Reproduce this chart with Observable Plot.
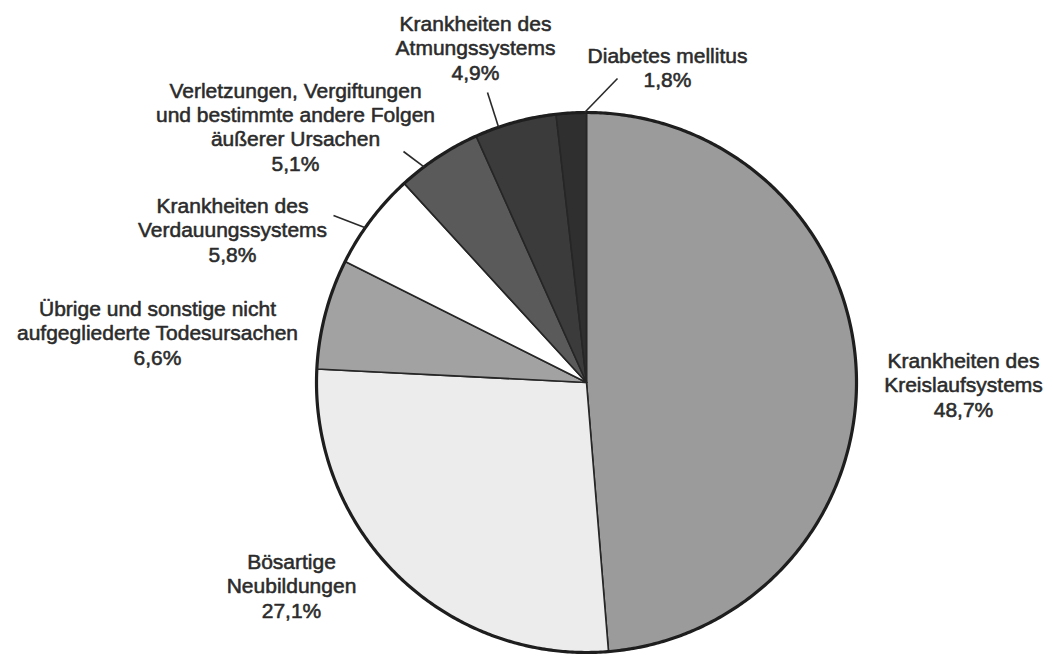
<!DOCTYPE html>
<html>
<head>
<meta charset="utf-8">
<script src="https://cdn.jsdelivr.net/npm/d3@7"></script>
<script src="https://cdn.jsdelivr.net/npm/@observablehq/plot@0.6"></script>
<style>
  html, body { margin: 0; padding: 0; background: #ffffff; }
  #chart svg { display: block; }
</style>
</head>
<body>
<div id="chart"></div>
<script>
// ---------- data ----------
const categories = [
  "Krankheiten des Kreislaufsystems",
  "Bösartige Neubildungen",
  "Übrige und sonstige nicht aufgegliederte Todesursachen",
  "Krankheiten des Verdauungssystems",
  "Verletzungen, Vergiftungen und bestimmte andere Folgen äußerer Ursachen",
  "Krankheiten des Atmungssystems",
  "Diabetes mellitus"
];
const values = [48.7, 27.1, 6.6, 5.8, 5.1, 4.9, 1.8];
const labelLines = [
  ["Krankheiten des", "Kreislaufsystems"],
  ["Bösartige", "Neubildungen"],
  ["Übrige und sonstige nicht", "aufgegliederte Todesursachen"],
  ["Krankheiten des", "Verdauungssystems"],
  ["Verletzungen, Vergiftungen", "und bestimmte andere Folgen", "äußerer Ursachen"],
  ["Krankheiten des", "Atmungssystems"],
  ["Diabetes mellitus"]
];
const valueLabels = values.map(v => v.toFixed(1).replace(".", ",") + "%");

// ---------- styles & layout ----------
const sliceFills = ["#9b9b9b", "#ececec", "#a2a2a2", "#ffffff", "#5a5a5a", "#3b3b3b", "#2f2f2f"];
const W = 1053, H = 656;
const CX = 586, CY = 382, R = 270;           // pie centre & radius (pixels)
// label block centres (pixels)
const labelPos = [
  [963, 384], [291, 585], [157, 332], [232, 229], [295, 126], [475, 47], [667, 67]
];
// leader lines: [category index, start px x, start px y, end angle (deg, clockwise from 12 o'clock)]
const leaders = [
  [3, 333, 215, 305],
  [4, 403, 151, 323],
  [5, 487, 92, 341],
  [6, 617, 78, 359.6]
];

const toX = px => (px - CX) / R;
const toY = py => (CY - py) / R;

// ---------- geometry from data ----------
const pie = d3.pie().sort(null).value(d => d.value).startAngle(0).endAngle(2 * Math.PI);
const arcs = pie(categories.map((name, i) => ({name, value: values[i]})));

const slicePts = [];
for (const a of arcs) {
  slicePts.push({name: a.data.name, x: 0, y: 0});
  const n = Math.max(2, Math.ceil((a.endAngle - a.startAngle) / (Math.PI / 360)));
  for (let k = 0; k <= n; k++) {
    const t = a.startAngle + (a.endAngle - a.startAngle) * k / n;
    slicePts.push({name: a.data.name, x: Math.sin(t), y: Math.cos(t)});
  }
}
const ringPts = d3.range(0, 721).map(k => {
  const t = k / 720 * 2 * Math.PI;
  return {x: Math.sin(t), y: Math.cos(t)};
});

const labels = categories.map((name, i) => ({
  name,
  text: [...labelLines[i], valueLabels[i]].join("\n"),
  x: toX(labelPos[i][0]),
  y: toY(labelPos[i][1])
}));

const leaderData = leaders.map(([i, sx, sy, deg]) => {
  const t = deg * Math.PI / 180;
  return {name: categories[i], x1: toX(sx), y1: toY(sy), x2: Math.sin(t), y2: Math.cos(t)};
});

const chart = Plot.plot({
  width: W,
  height: H,
  margin: 0,
  x: {domain: [toX(0), toX(W)], range: [0, W], axis: null},
  y: {domain: [toY(H), toY(0)], range: [H, 0], axis: null},
  color: {domain: categories, range: sliceFills, legend: false},
  style: {background: "#ffffff"},
  marks: [
    Plot.line(slicePts, {
      x: "x", y: "y", z: "name", fill: "name",
      stroke: "#262626", strokeWidth: 1.6, curve: "linear-closed", strokeLinejoin: "round"
    }),
    Plot.line(ringPts, {x: "x", y: "y", stroke: "#1e1e1e", strokeWidth: 3.2, fill: "none"}),
    Plot.link(leaderData, {x1: "x1", y1: "y1", x2: "x2", y2: "y2", stroke: "#2a2a2a", strokeWidth: 1.6}),
    Plot.text(labels, {
      x: "x", y: "y", text: "text",
      fontSize: 21, lineHeight: 1.16,
      fontFamily: "'Liberation Sans', Arial, Helvetica, sans-serif",
      textAnchor: "middle", lineAnchor: "middle",
      fill: "#2b2b2b", stroke: "#2b2b2b", strokeWidth: 0.55
    })
  ]
});
document.getElementById("chart").appendChild(chart);
</script>
</body>
</html>
